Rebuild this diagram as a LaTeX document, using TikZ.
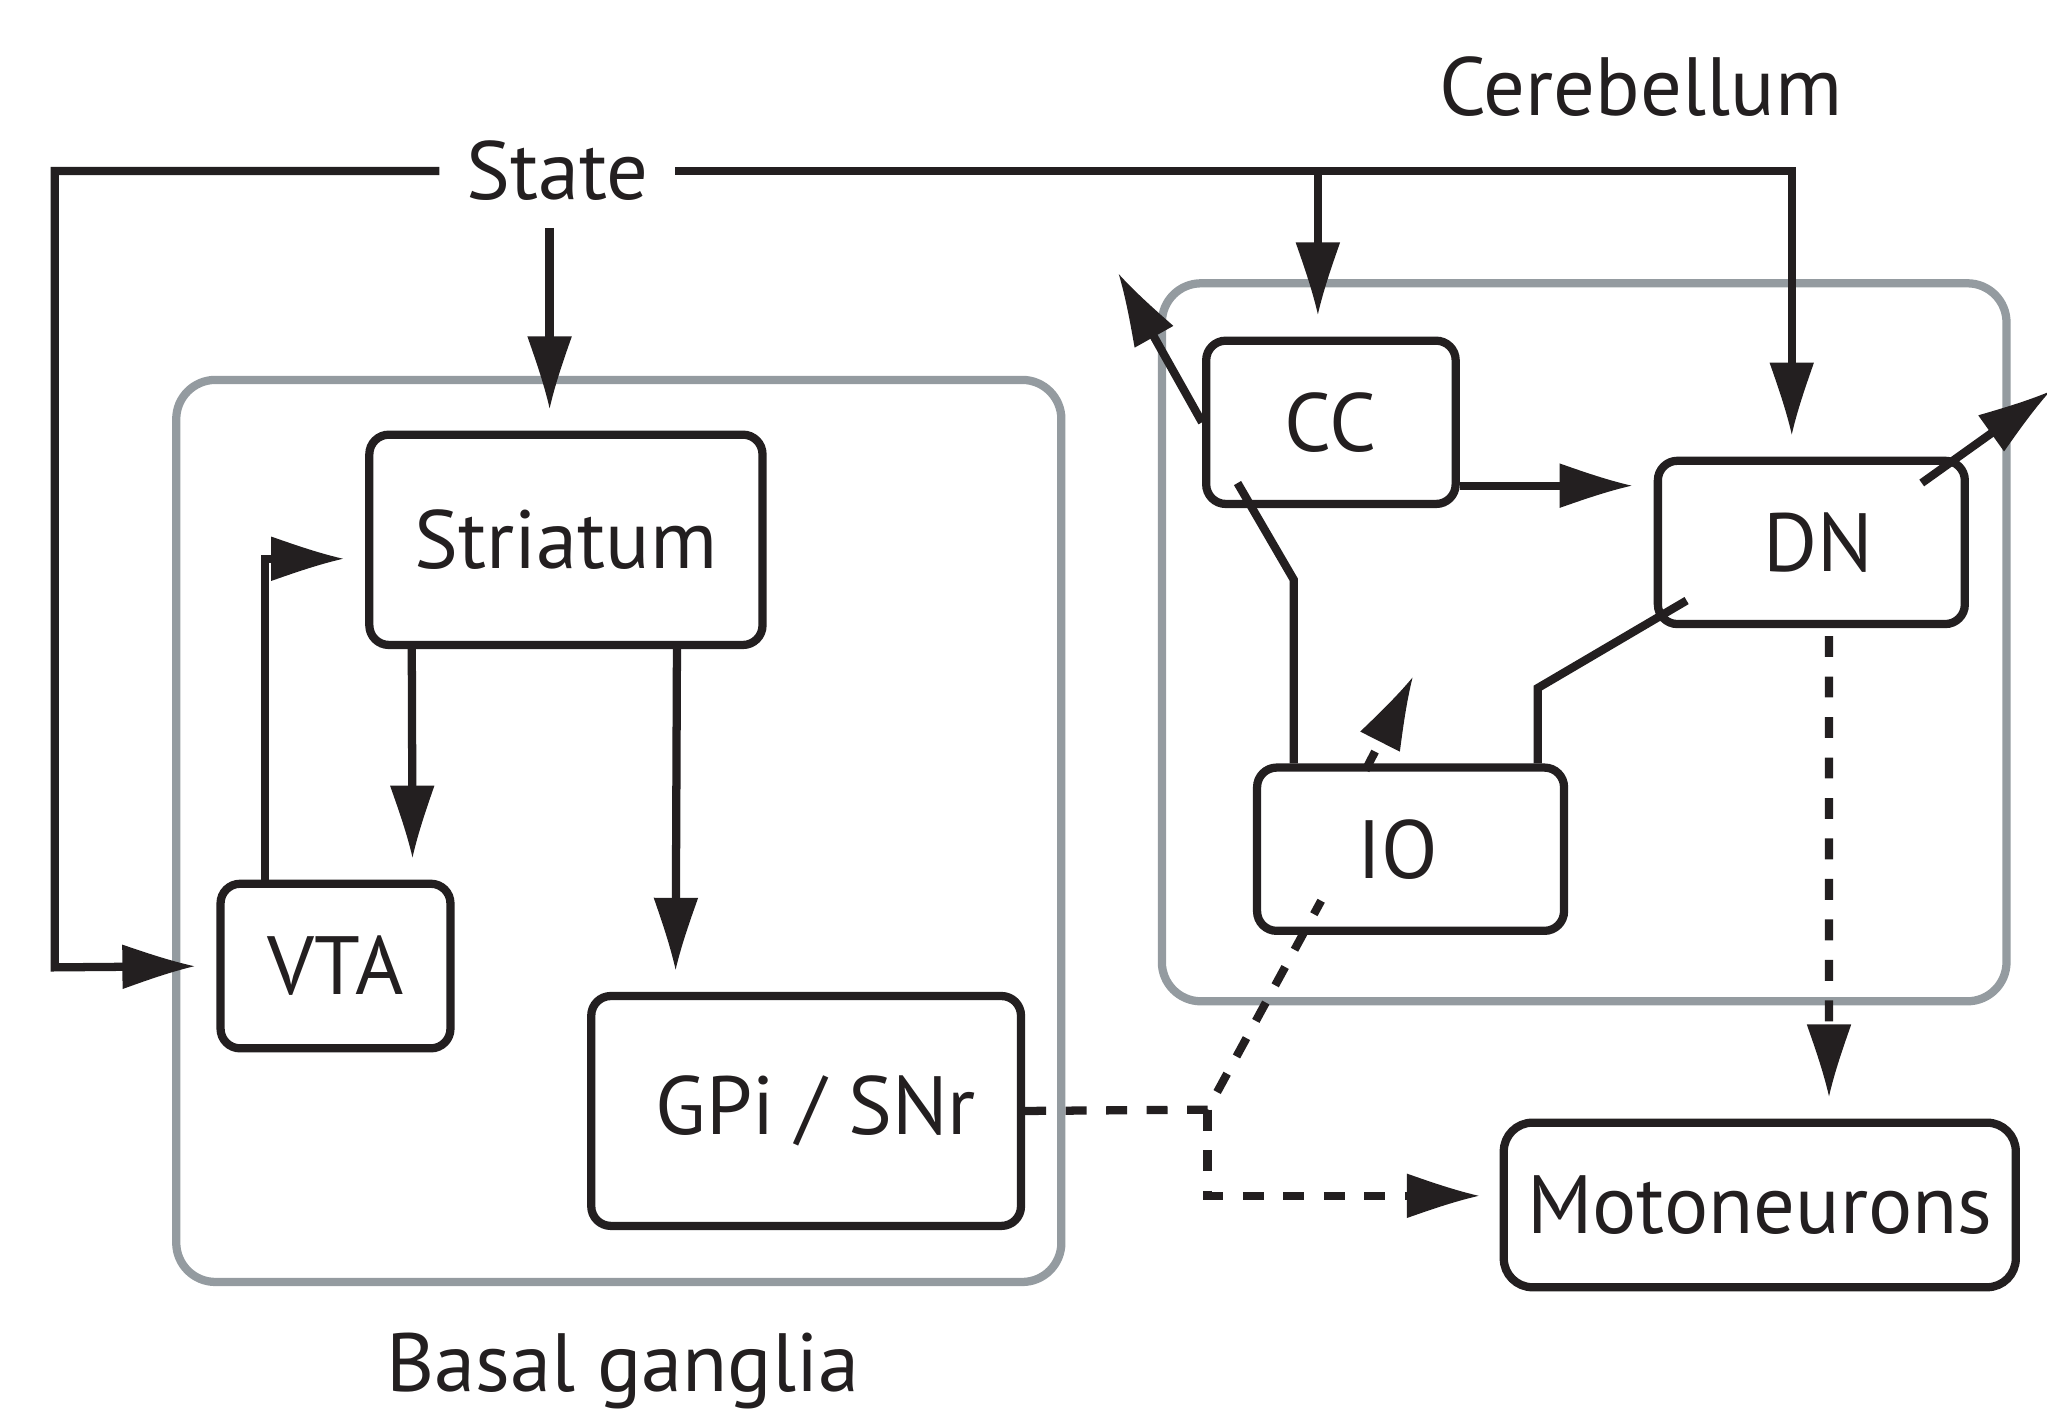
\documentclass[tikz,border=0pt]{standalone}
\usepackage{fontspec}
\setmainfont{PT Sans}
\usetikzlibrary{arrows.meta}
\definecolor{ink}{HTML}{231F20}
\definecolor{rim}{HTML}{949BA0}

% tapered arrow head with slightly hollow flanks
\pgfdeclarearrow{
  name = Fin,
  parameters = {\the\pgfarrowlength,\the\pgfarrowwidth},
  setup code = {
    \pgfarrowssettipend{0pt}
    \pgfarrowssetbackend{-\pgfarrowlength}
    \pgfarrowssetlineend{-0.5\pgfarrowlength}
    \pgfarrowshullpoint{0pt}{0pt}
    \pgfarrowshullpoint{-\pgfarrowlength}{0.5\pgfarrowwidth}
    \pgfarrowshullpoint{-\pgfarrowlength}{-0.5\pgfarrowwidth}
    \pgfarrowssavethe\pgfarrowlength
    \pgfarrowssavethe\pgfarrowwidth
  },
  drawing code = {
    \pgfpathmoveto{\pgfpointorigin}
    \pgfpathcurveto{\pgfqpoint{-0.35\pgfarrowlength}{0.13\pgfarrowwidth}}
                   {\pgfqpoint{-0.7\pgfarrowlength}{0.33\pgfarrowwidth}}
                   {\pgfqpoint{-\pgfarrowlength}{0.5\pgfarrowwidth}}
    \pgfpathlineto{\pgfqpoint{-\pgfarrowlength}{-0.5\pgfarrowwidth}}
    \pgfpathcurveto{\pgfqpoint{-0.7\pgfarrowlength}{-0.33\pgfarrowwidth}}
                   {\pgfqpoint{-0.35\pgfarrowlength}{-0.13\pgfarrowwidth}}
                   {\pgfpointorigin}
    \pgfpathclose
    \pgfusepathqfill
  },
  defaults = {length=0.55cm, width=0.34cm}
}

\tikzset{>=Fin}
\tikzset{
  region/.style={draw=rim, line width=1.8pt, rounded corners=0.3cm},
  area/.style={draw=ink, text=ink, line width=1.8pt, rounded corners=0.15cm,
    inner sep=0pt, font=\fontsize{18}{20}\selectfont},
  caption/.style={text=ink, font=\fontsize{18}{20}\selectfont},
  wire/.style={color=ink, line width=1.8pt},
  link/.style={wire, ->, shorten >=0.17cm},
  dwire/.style={wire, dash pattern=on 0.16cm off 0.15cm}
}

\begin{document}
\begin{tikzpicture}[x=0.01cm, y=-0.01cm]
\useasboundingbox (0,0) rectangle (1568,1082);

% the two circuits
\draw[region] (135,291) rectangle (813,982);
\draw[region] (890,217) rectangle (1537,767);

\node[caption] (cerebellum) at (1257,66) {Cerebellum};
\node[caption] (basal) at (477,1050) {Basal ganglia};
\node[caption, inner sep=0.2cm] (state) at (427,131) {State};

\node[area, minimum width=3.01cm, minimum height=1.61cm] (striatum) at (433.5,413.5) {Striatum};
\node[area, minimum width=1.76cm, minimum height=1.26cm] (vta) at (257,740) {VTA};
\node[area, minimum width=3.29cm, minimum height=1.76cm] (gpi) at (617.5,851) {\kern0.15cm GPi / SNr};
\node[area, minimum width=1.91cm, minimum height=1.25cm] (cc) at (1019.5,323.5) {CC};
\node[area, minimum width=2.35cm, minimum height=1.25cm] (dn) at (1387.5,415.5) {\kern0.1cm DN};
\node[area, minimum width=2.35cm, minimum height=1.25cm] (io) at (1080.5,650.5) {IO\kern0.2cm};
\node[area, minimum width=3.92cm, minimum height=1.26cm, rounded corners=0.22cm] (moto) at (1348,923) {Motoneurons};

\coordinate (stateleft) at (42,741);
\coordinate (ccout) at (857,210);
\coordinate (dnout) at (1570,300);
\coordinate (cckink) at (991,444);
\coordinate (dnkink) at (1178,527);
\coordinate (gate) at (925,850);
\coordinate (iogap) at (1012,690);
\coordinate (ioresume) at (1046,590);
\coordinate (ioup) at (1082,519);

% state input
\draw[link] (state.west) -| (stateleft) -- (vta.west);
\draw[link] ([xshift=-0.06cm]state.south) -- ([xshift=-0.06cm]state.south |- striatum.north);
\draw[link] (state.east) -| ([xshift=-0.15cm]dn.north);
\draw[link] ([xshift=-0.1cm]cc.north |- state.east) -- ([xshift=-0.1cm]cc.north);

% basal ganglia loop
\draw[link] ([xshift=-1.18cm]striatum.south) -- ([xshift=0.59cm]vta.north);
\draw[link] ([xshift=0.85cm]striatum.south) -- ([xshift=-1.0cm]gpi.north);
\draw[link] ([xshift=-0.54cm]vta.north) |- ([yshift=-0.145cm]striatum.west);

% cerebellar loop
\draw[link] ([yshift=-0.485cm]cc.east) -- ([yshift=-0.485cm]cc.east -| dn.west);
\draw[wire,->] (cc.west) -- (ccout);
\draw[wire,->] ([xshift=0.845cm,yshift=0.455cm]dn.center) -- (dnout);
\draw[wire] ([xshift=-0.715cm,yshift=-0.465cm]cc.center) -- (cckink) -- (cckink |- io.north);
\draw[wire] ([xshift=-0.955cm,yshift=-0.445cm]dn.center) -- (dnkink) -- (dnkink |- io.north);

% outputs
\draw[dwire] (gpi.east) -- (gate) -- (iogap);
\draw[dwire,->] (ioresume) -- (ioup);
\draw[dwire,->,shorten >=0.16cm] (gate) |- ([yshift=0.07cm]moto.west);
\draw[dwire,->,shorten >=0.17cm,shorten <=0.06cm] ([xshift=0.135cm]dn.south) -- ([xshift=0.53cm]moto.north);
\end{tikzpicture}
\end{document}
